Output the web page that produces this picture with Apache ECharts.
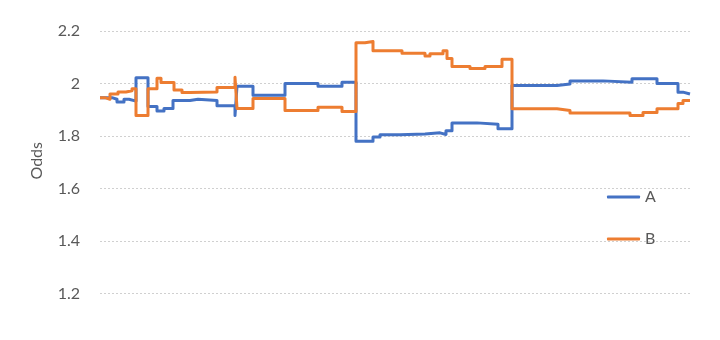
<!DOCTYPE html>
<html>
<head>
<meta charset="utf-8">
<script src="https://cdn.jsdelivr.net/npm/echarts@6/dist/echarts.min.js"></script>
<style>html,body{margin:0;padding:0;background:#fff}#c{width:720px;height:340px}</style>
</head>
<body>
<div id="c"></div>
<script>
// time index (arbitrary step units) at which each odds value starts
const aTime = [0,12,17,24,29,36,48,57,64,73,90,98,117,135,137,153,185,218,242,256,273,280,300,325,340,346,352,377,398,412,457,470,503,532,557,578,583,590];
const aOdds = [1.946,1.94,1.93,1.94,1.933,2.022,1.912,1.895,1.905,1.935,1.94,1.935,1.915,1.878,1.99,1.955,2.0,1.99,2.005,1.78,1.796,1.805,1.808,1.812,1.806,1.82,1.85,1.845,1.828,1.992,1.998,2.01,2.005,2.018,2.0,1.967,1.96,1.96];
const bTime = [0,5,10,18,26,32,36,48,57,61,74,82,90,117,135,137,153,185,218,242,256,265,273,302,325,330,343,347,352,370,385,402,412,457,470,530,543,557,578,583,590];
const bOdds = [1.946,1.94,1.96,1.968,1.972,1.98,1.878,1.98,2.02,2.004,1.975,1.966,1.968,1.985,2.024,1.905,1.943,1.897,1.91,1.893,2.155,2.16,2.125,2.115,2.105,2.113,2.125,2.095,2.065,2.057,2.065,2.092,1.904,1.897,1.888,1.878,1.89,1.904,1.924,1.935,1.935];
const yTicks = {min: 1, max: 2.2, interval: 0.2};
const seriesNames = ['A', 'B'];

const zip = (t, v) => t.map((x, i) => [x, v[i]]);
const chart = echarts.init(document.getElementById('c'), null, {renderer: 'canvas'});
const font = 'Lato, "Open Sans", sans-serif';
chart.setOption({
  animation: false,
  grid: {left: 100, top: 31, width: 590, height: 315, outerBoundsMode: 'none', containLabel: false},
  xAxis: {type: 'value', min: 0, max: 590, show: false},
  yAxis: {
    type: 'value', min: yTicks.min, max: yTicks.max, interval: yTicks.interval,
    axisLine: {show: false}, axisTick: {show: false},
    axisLabel: {color: '#595959', fontSize: 16, fontFamily: font, margin: 20},
    splitLine: {lineStyle: {color: '#d0d0d0', type: [2, 2], width: 1}}
  },
  legend: {
    data: seriesNames, orient: 'vertical', left: 602, top: 183,
    icon: 'roundRect', itemWidth: 33, itemHeight: 3, itemGap: 24,
    textStyle: {color: '#595959', fontSize: 16, fontFamily: font, lineHeight: 18}
  },
  graphic: [{
    type: 'text', left: 29, top: 142, rotation: Math.PI / 2,
    style: {text: 'Odds', fill: '#595959', font: '16px ' + font}
  }],
  series: [
    {name: 'A', type: 'line', step: 'end', showSymbol: false, symbol: 'none', data: zip(aTime, aOdds),
     lineStyle: {color: '#4472C4', width: 3, join: 'round'}, itemStyle: {color: '#4472C4'}},
    {name: 'B', type: 'line', step: 'end', showSymbol: false, symbol: 'none', data: zip(bTime, bOdds),
     lineStyle: {color: '#ED7D31', width: 3, join: 'round'}, itemStyle: {color: '#ED7D31'}}
  ]
});
</script>
</body>
</html>
